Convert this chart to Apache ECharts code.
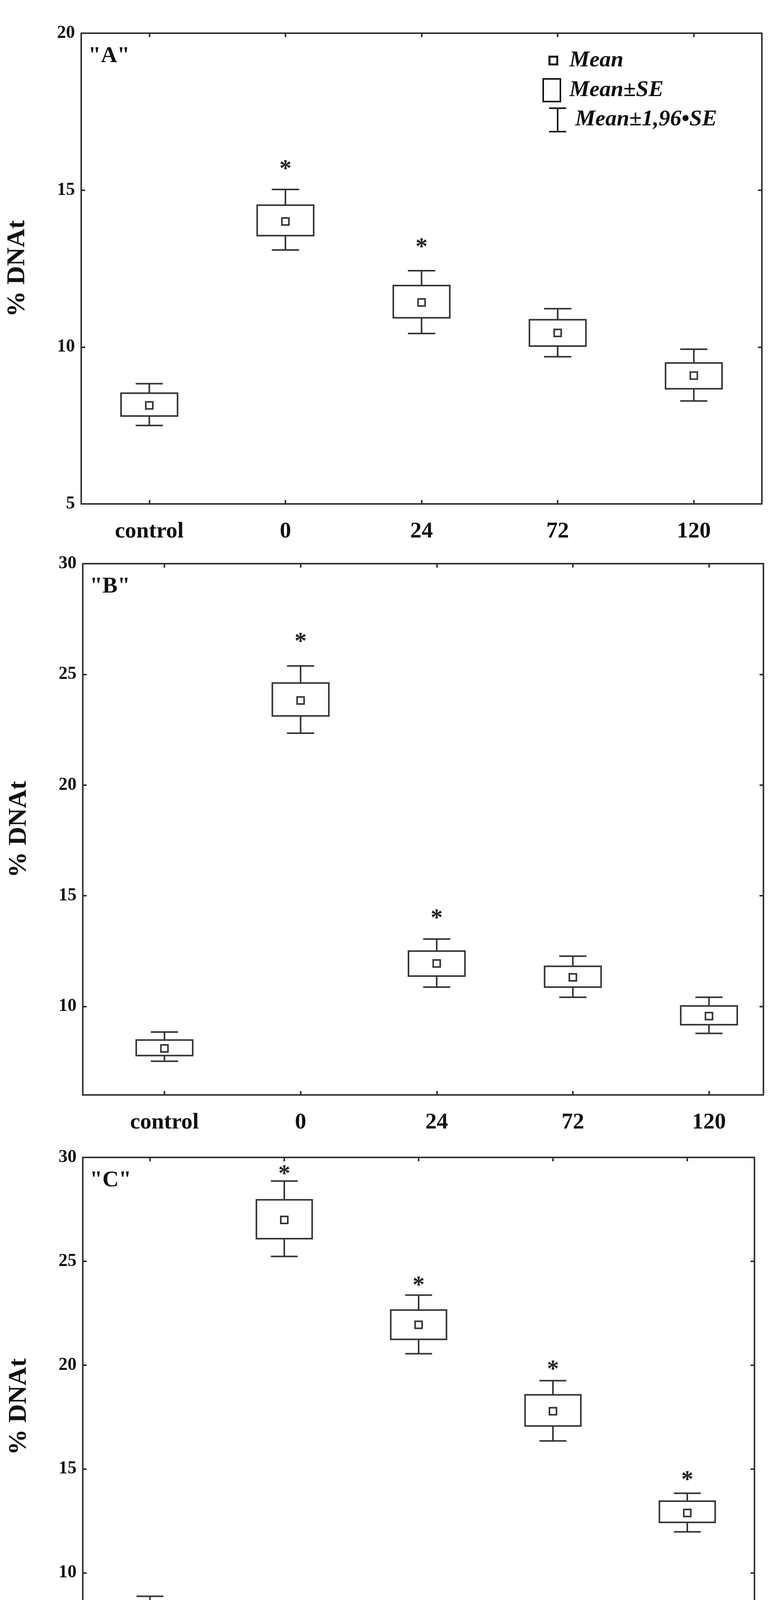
<!DOCTYPE html>
<html><head><meta charset="utf-8">
<script src="https://cdn.jsdelivr.net/npm/echarts@6/dist/echarts.min.js"></script>
<style>html,body{margin:0;padding:0;background:#fff}#c{width:2000px;height:4367px}</style>
</head><body><div id="c"></div>
<script>
const categories = ['control','0','24','72','120'];
// Panel A
const A_wLow  = [7.50, 13.09, 10.43, 9.69, 8.28];
const A_seLow = [7.80, 13.55, 10.93, 10.03, 8.67];
const A_mean  = [8.14, 14.00, 11.42, 10.45, 9.09];
const A_seHigh= [8.53, 14.52, 11.96, 10.87, 9.49];
const A_wHigh = [8.83, 15.02, 12.43, 11.22, 9.93];
const A_star  = [null, 15.76, 13.26, null, null];
// Panel B
const B_wLow  = [7.52, 22.34, 10.87, 10.41, 8.78];
const B_seLow = [7.78, 23.12, 11.37, 10.87, 9.17];
const B_mean  = [8.10, 23.82, 11.94, 11.31, 9.56];
const B_seHigh= [8.48, 24.61, 12.50, 11.81, 10.02];
const B_wHigh = [8.84, 25.38, 13.04, 12.27, 10.41];
const B_star  = [null, 26.6, 14.1, null, null];
// Panel C
const C_wLow  = [7.54, 25.23, 20.55, 16.35, 11.97];
const C_seLow = [7.82, 26.09, 21.24, 17.07, 12.43];
const C_mean  = [8.14, 26.99, 21.94, 17.78, 12.88];
const C_seHigh= [8.52, 27.96, 22.65, 18.57, 13.45];
const C_wHigh = [8.87, 28.86, 23.37, 19.25, 13.83];
const C_star  = [null, 29.33, 23.97, 19.92, 14.59];
const yTicksA = [5,10,15,20];
const yTicksBC = [10,15,20,25,30];

const FONT = '"Liberation Serif","Times New Roman",serif';
const LC = '#333';
const panels = [
  {g:{left:208,right:49,top:85,height:1205}, xmin:-0.5, xmax:4.5, ymin:5, ymax:20, yt:yTicksA, d:[A_wLow,A_seLow,A_mean,A_seHigh,A_wHigh], s:A_star, label:'"A"'},
  {g:{left:212,right:45,top:1443,height:1360}, xmin:-0.6, xmax:4.4, ymin:6, ymax:30, yt:yTicksBC, d:[B_wLow,B_seLow,B_mean,B_seHigh,B_wHigh], s:B_star, label:'"B"'},
  {g:{left:212,right:68,top:2963,height:1276}, xmin:-0.5, xmax:4.5, ymin:6, ymax:30, yt:yTicksBC, d:[C_wLow,C_seLow,C_mean,C_seHigh,C_wHigh], s:C_star, label:'"C"'}
];
const grid=[],xAxis=[],yAxis=[],series=[],graphic=[];
panels.forEach((p,k)=>{
  grid.push(Object.assign({show:false},p.g));
  const tick={show:true,inside:true,length:10,lineStyle:{color:LC,width:4}};
  const line={show:true,onZero:false,lineStyle:{color:LC,width:4}};
  xAxis.push({type:'value',gridIndex:k,min:p.xmin,max:p.xmax,splitLine:{show:false},axisLine:line,
    axisTick:Object.assign({customValues:[0,1,2,3,4]},tick),
    axisLabel:{customValues:[0,1,2,3,4],formatter:v=>categories[Math.round(v)],margin:42,fontFamily:FONT,fontWeight:'bold',fontSize:58,color:'#111'}});
  xAxis.push({type:'value',gridIndex:k,position:'top',min:p.xmin,max:p.xmax,splitLine:{show:false},axisLine:line,
    axisTick:Object.assign({customValues:[0,1,2,3,4]},tick),axisLabel:{show:false}});
  yAxis.push({type:'value',gridIndex:k,min:p.ymin,max:p.ymax,splitLine:{show:false},axisLine:line,
    axisTick:Object.assign({customValues:p.yt},tick),
    axisLabel:{customValues:p.yt,margin:16,fontFamily:FONT,fontWeight:'bold',fontSize:46,color:'#111'},
    name:'% DNAt',nameLocation:'middle',nameGap:130,nameTextStyle:{fontFamily:FONT,fontWeight:'bold',fontSize:66,color:'#111'}});
  yAxis.push({type:'value',gridIndex:k,position:'right',min:p.ymin,max:p.ymax,splitLine:{show:false},axisLine:line,
    axisTick:Object.assign({customValues:p.yt},tick),axisLabel:{show:false}});
  const data=categories.map((c,i)=>[i,p.d[0][i],p.d[1][i],p.d[2][i],p.d[3][i],p.d[4][i]]);
  series.push({type:'custom',xAxisIndex:2*k,yAxisIndex:2*k,data:data,clip:false,
    renderItem:(params,api)=>{
      const i=api.value(0);
      const c=api.coord([i,api.value(3)]);
      const w=api.size([0.415,0])[0], cw=api.size([0.2,0])[0];
      const x=c[0];
      const yWl=api.coord([i,api.value(1)])[1], ySl=api.coord([i,api.value(2)])[1];
      const ySh=api.coord([i,api.value(4)])[1], yWh=api.coord([i,api.value(5)])[1];
      const st={stroke:LC,lineWidth:4,fill:null};
      return {type:'group',children:[
        {type:'line',shape:{x1:x,y1:yWh,x2:x,y2:ySh},style:st},
        {type:'line',shape:{x1:x,y1:ySl,x2:x,y2:yWl},style:st},
        {type:'line',shape:{x1:x-cw/2,y1:yWh,x2:x+cw/2,y2:yWh},style:st},
        {type:'line',shape:{x1:x-cw/2,y1:yWl,x2:x+cw/2,y2:yWl},style:st},
        {type:'rect',shape:{x:x-w/2,y:ySh,width:w,height:ySl-ySh},style:{stroke:LC,lineWidth:4,fill:'#fff'}},
        {type:'rect',shape:{x:x-9,y:c[1]-9,width:18,height:18},style:{stroke:LC,lineWidth:4,fill:'#fff'}}
      ]};
    }});
  const sdata=categories.map((c,i)=>[i,p.s[i]]).filter(d=>d[1]!=null);
  series.push({type:'custom',xAxisIndex:2*k,yAxisIndex:2*k,data:sdata,clip:false,
    renderItem:(params,api)=>{
      const c=api.coord([api.value(0),api.value(1)]);
      return {type:'text',x:c[0],y:c[1]+8,style:{text:'*',fontFamily:FONT,fontWeight:'bold',fontSize:62,fill:'#222',align:'center',verticalAlign:'middle'}};
    }});
  graphic.push({type:'text',left:p.g.left+18,top:p.g.top+30,style:{text:p.label,fontFamily:FONT,fontWeight:'bold',fontSize:58,fill:'#111'}});
});
// legend of panel A
const LT={fontFamily:FONT,fontWeight:'bold',fontStyle:'italic',fontSize:58,fill:'#111'};
graphic.push(
  {type:'rect',shape:{x:1407,y:145,width:20,height:20},style:{stroke:'#111',lineWidth:5,fill:'#fff'}},
  {type:'text',x:1458,y:155,style:Object.assign({text:'Mean',verticalAlign:'middle'},LT)},
  {type:'rect',shape:{x:1391,y:202,width:44,height:58},style:{stroke:'#111',lineWidth:4,fill:'#fff'}},
  {type:'text',x:1458,y:231,style:Object.assign({text:'Mean±SE',verticalAlign:'middle'},LT)},
  {type:'line',shape:{x1:1428,y1:277,x2:1428,y2:337},style:{stroke:'#111',lineWidth:4}},
  {type:'line',shape:{x1:1406,y1:277,x2:1450,y2:277},style:{stroke:'#111',lineWidth:4}},
  {type:'line',shape:{x1:1406,y1:337,x2:1450,y2:337},style:{stroke:'#111',lineWidth:4}},
  {type:'text',x:1473,y:306,style:Object.assign({text:'Mean±1,96•SE',verticalAlign:'middle'},LT)}
);
const chart=echarts.init(document.getElementById('c'));
chart.setOption({backgroundColor:'#fff',animation:false,grid,xAxis,yAxis,series,graphic});
</script></body></html>
